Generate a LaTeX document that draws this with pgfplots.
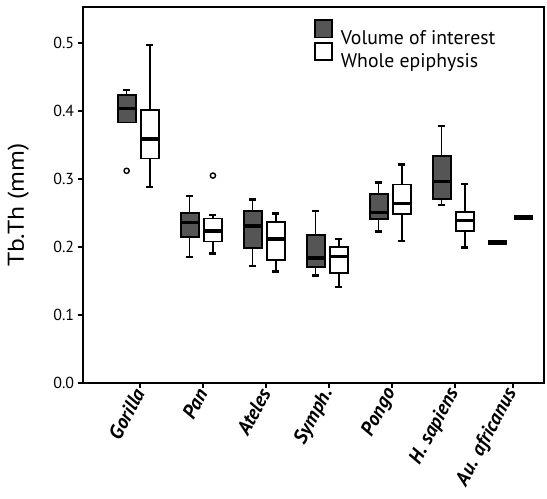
\documentclass[border=0pt]{standalone}
\usepackage{fontspec}
\setmainfont{PT Sans}
\usepackage{pgfplots}
\pgfplotsset{compat=1.18}
\definecolor{boxgray}{RGB}{85,85,85}

% box: position, lower whisker, lower quartile, median, upper quartile, upper whisker, fill colour
\newcommand{\bp}[7]{%
  \pgfmathsetmacro\bxl{#1-0.143}\pgfmathsetmacro\bxr{#1+0.143}%
  \pgfmathsetmacro\bcl{#1-0.055}\pgfmathsetmacro\bcr{#1+0.055}%
  \addplot[forget plot, black, line width=1.6bp] coordinates {(#1,#2) (#1,#3)};
  \addplot[forget plot, black, line width=1.6bp] coordinates {(#1,#5) (#1,#6)};
  \addplot[forget plot, black, line width=2.6bp] coordinates {(\bcl,#2) (\bcr,#2)};
  \addplot[forget plot, black, line width=2.6bp] coordinates {(\bcl,#6) (\bcr,#6)};
  \addplot[forget plot, draw=black, fill=#7, line width=1.8bp] coordinates {(\bxl,#3) (\bxr,#3) (\bxr,#5) (\bxl,#5)} -- cycle;
  \addplot[forget plot, black, line width=3.5bp] coordinates {(\bxl,#4) (\bxr,#4)};
}

\begin{document}
\begin{tikzpicture}
\useasboundingbox (-82.7bp,-116bp) rectangle (464.3bp,383bp);
\begin{axis}[
  scale only axis, width=461.3bp, height=376bp,
  at={(0,0)}, anchor=south west,
  xmin=-0.8825, xmax=6.44, ymin=0, ymax=0.5529,
  axis line style={line width=1.8bp},
  tick align=outside, major tick length=5bp,
  tick style={line width=1.8bp, black},
  xtick pos=bottom, ytick pos=left,
  ytick={0,0.1,0.2,0.3,0.4,0.5},
  yticklabel style={font=\fontsize{16}{18}\selectfont,
    /pgf/number format/.cd, fixed, fixed zerofill, precision=1, assume math mode=true},
  xtick={0.03,1.03,2.03,3.03,4.03,5.03,5.95},
  xticklabels={Gorilla,Pan,Ateles,Symph.,Pongo,H. sapiens,Au. africanus},
  xticklabel style={font=\fontsize{20}{22}\selectfont\bfseries\itshape, rotate=62, anchor=east, inner sep=2bp},
  ylabel={Tb.Th (mm)},
  ylabel style={font=\fontsize{23}{26}\selectfont, at={(axis description cs:-0.140,0.473)}, anchor=center, xscale=1.12},
  legend style={at={(axis description cs:0.5014,0.9673)}, anchor=north west, draw=none, fill=none,
    inner sep=0pt, row sep=-4.2bp, column sep=7.7bp,
    nodes={inner sep=0pt, font=\fontsize{19.8}{22}\selectfont}},
  legend cell align=left,
  clip=false,
]
\addlegendimage{legend image code/.code={\draw[fill=boxgray, draw=black, line width=1.8bp] (0.9bp,0.9bp) rectangle (18.1bp,18.1bp);}}
\addlegendentry{Volume of interest}
\addlegendimage{legend image code/.code={\draw[fill=white, draw=black, line width=1.8bp] (0.9bp,0.9bp) rectangle (18.1bp,18.1bp);}}
\addlegendentry{Whole epiphysis}

% Volume of interest (dark)
% Gorilla: no lower whisker below the box
\addplot[forget plot, black, line width=1.6bp] coordinates {(-0.185,0.4235) (-0.185,0.431)};
\addplot[forget plot, black, line width=2.6bp] coordinates {(-0.24,0.431) (-0.13,0.431)};
\addplot[forget plot, draw=black, fill=boxgray, line width=1.8bp] coordinates {(-0.328,0.383) (-0.042,0.383) (-0.042,0.4235) (-0.328,0.4235)} -- cycle;
\addplot[forget plot, black, line width=3.5bp] coordinates {(-0.328,0.404) (-0.042,0.404)};
\bp{0.815}{0.185}{0.215}{0.236}{0.2505}{0.275}{boxgray}
\bp{1.815}{0.172}{0.199}{0.231}{0.253}{0.270}{boxgray}
\bp{2.815}{0.158}{0.171}{0.184}{0.2176}{0.253}{boxgray}
\bp{3.815}{0.2225}{0.2416}{0.251}{0.2775}{0.295}{boxgray}
\bp{4.815}{0.262}{0.270}{0.296}{0.334}{0.378}{boxgray}

% Whole epiphysis (white)
\bp{0.185}{0.288}{0.330}{0.359}{0.401}{0.497}{white}
\bp{1.185}{0.190}{0.208}{0.2235}{0.242}{0.247}{white}
\bp{2.185}{0.164}{0.181}{0.212}{0.237}{0.2495}{white}
\bp{3.185}{0.141}{0.162}{0.186}{0.1995}{0.212}{white}
\bp{4.185}{0.209}{0.2485}{0.264}{0.292}{0.321}{white}
\bp{5.185}{0.199}{0.224}{0.2387}{0.252}{0.2926}{white}

% outliers
\addplot[forget plot, only marks, mark=o, mark size=2.6bp, mark options={line width=1.4bp, draw=black, fill=white}]
  coordinates {(-0.185,0.312) (1.185,0.305)};

% Au. africanus (single values)
\addplot[forget plot, black, line width=5bp] coordinates {(5.551,0.206) (5.852,0.206)};
\addplot[forget plot, black, line width=5bp] coordinates {(5.963,0.2437) (6.265,0.2437)};
\end{axis}
\end{tikzpicture}
\end{document}
